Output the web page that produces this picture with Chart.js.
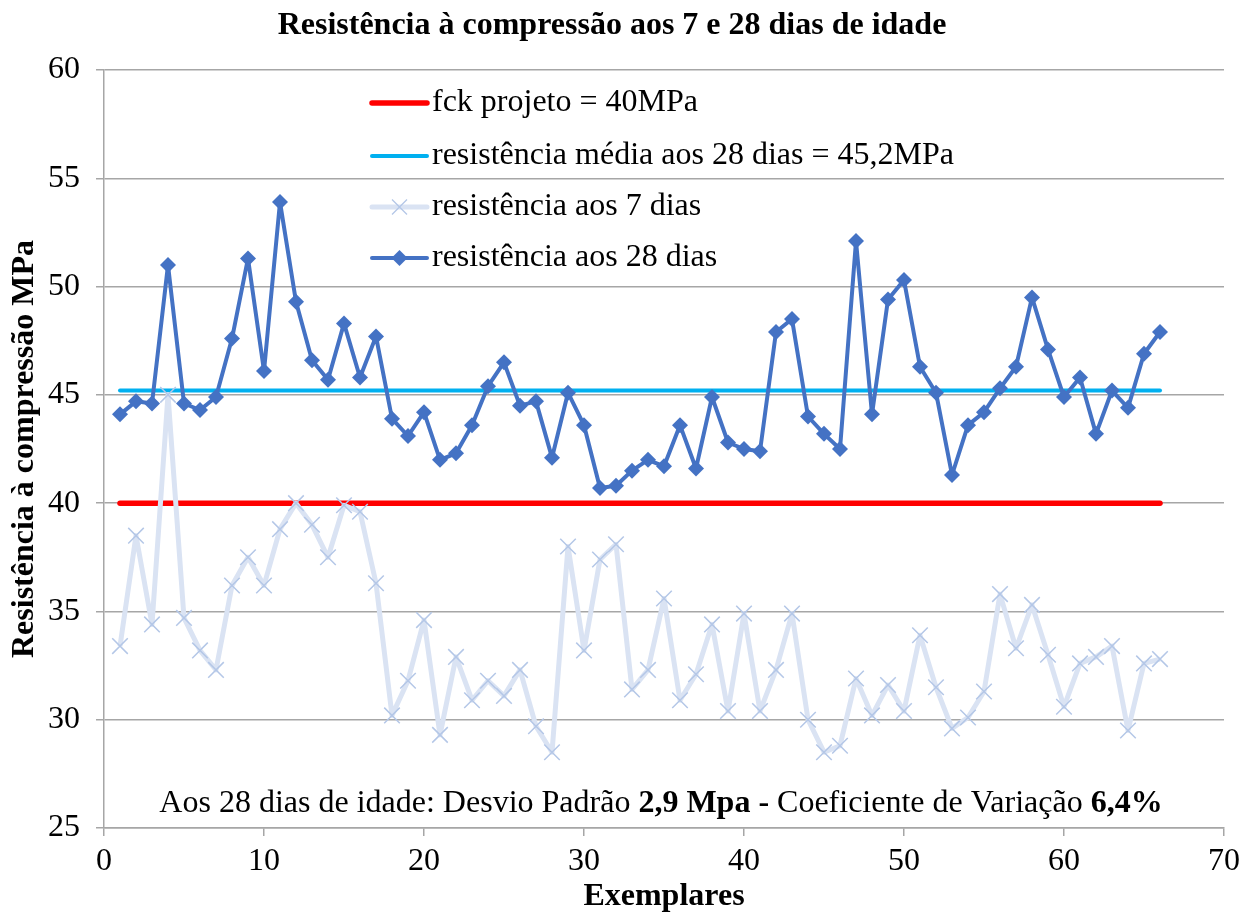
<!DOCTYPE html>
<html>
<head>
<meta charset="utf-8">
<script src="https://cdn.jsdelivr.net/npm/chart.js@4/dist/chart.umd.min.js"></script>
<style>
  html, body { margin: 0; padding: 0; background: #ffffff; }
  #wrap { width: 1252px; height: 912px; position: relative; }
</style>
</head>
<body>
<div id="wrap"><canvas id="c" width="1252" height="912"></canvas></div>
<script>
// ---- Data ----
const exemplares = [1,2,3,4,5,6,7,8,9,10,11,12,13,14,15,16,17,18,19,20,21,22,23,24,25,26,27,28,29,30,31,32,33,34,35,36,37,38,39,40,41,42,43,44,45,46,47,48,49,50,51,52,53,54,55,56,57,58,59,60,61,62,63,64,65,66];
const resist28 = [44.1,44.7,44.6,51.0,44.6,44.3,44.9,47.6,51.3,46.1,53.9,49.3,46.6,45.7,48.3,45.8,47.7,43.9,43.1,44.2,42.0,42.3,43.6,45.4,46.5,44.5,44.7,42.1,45.1,43.6,40.7,40.8,41.5,42.0,41.7,43.6,41.6,44.9,42.8,42.5,42.4,47.9,48.5,44.0,43.2,42.5,52.1,44.1,49.4,50.3,46.3,45.1,41.3,43.6,44.2,45.3,46.3,49.5,47.1,44.9,45.8,43.2,45.2,44.4,46.9,47.9];
const resist7 = [33.4,38.5,34.4,45.0,34.7,33.2,32.3,36.2,37.5,36.2,38.8,40.0,39.0,37.5,39.9,39.6,36.3,30.2,31.8,34.6,29.3,32.9,30.9,31.8,31.1,32.3,29.7,28.5,38.0,33.2,37.4,38.1,31.4,32.3,35.6,30.9,32.1,34.4,30.4,34.9,30.4,32.3,34.9,30.0,28.5,28.8,31.9,30.2,31.6,30.4,33.9,31.5,29.6,30.1,31.3,35.8,33.3,35.3,33.0,30.6,32.6,32.9,33.4,29.5,32.6,32.8];
const fckProjeto = 40;
const mediaAos28 = 45.2;
const seriesLabels = ['fck projeto = 40MPa', 'resistência média aos 28 dias = 45,2MPa', 'resistência aos 7 dias', 'resistência aos 28 dias'];
const xTicks = [0,10,20,30,40,50,60,70];
const yTicks = [25,30,35,40,45,50,55,60];
const chartTitle = 'Resistência à compressão aos 7 e 28 dias de idade';
const yTitle = 'Resistência à compressão MPa';
const xTitle = 'Exemplares';
const noteParts = [
  ['Aos 28 dias de idade: Desvio Padrão ', false],
  ['2,9 Mpa - ', true],
  ['Coeficiente de Variação ', false],
  ['6,4%', true]
];

const FONT = "'Liberation Serif', 'Times New Roman', serif";
const GRID = '#a6a6a6';

function pts(xs, ys) { return xs.map((x, i) => ({x: x, y: ys[i]})); }
const firstX = exemplares[0], lastX = exemplares[exemplares.length - 1];

// Legend drawn inside the plot area + note text
const insideLegend = {
  id: 'insideLegend',
  afterDraw(chart) {
    const ctx = chart.ctx;
    const rows = [0, 1, 2, 3];
    const x0 = 372, x1 = 427, tx = 432;
    const ys = [103, 156, 207, 258];
    ctx.save();
    rows.forEach((di, r) => {
      const ds = chart.data.datasets[di];
      const y = ys[r];
      ctx.strokeStyle = ds.borderColor;
      ctx.lineWidth = ds.borderWidth;
      ctx.lineCap = 'round';
      ctx.beginPath(); ctx.moveTo(x0, y); ctx.lineTo(x1, y); ctx.stroke();
      const cx = (x0 + x1) / 2;
      if (ds.pointStyle === 'crossRot') {
        const s = 7.5;
        ctx.strokeStyle = ds.pointBorderColor; ctx.lineWidth = 1.3; ctx.lineCap = 'butt';
        ctx.beginPath(); ctx.moveTo(cx - s, y - s); ctx.lineTo(cx + s, y + s);
        ctx.moveTo(cx + s, y - s); ctx.lineTo(cx - s, y + s); ctx.stroke();
      } else if (ds.pointStyle === 'rectRot') {
        const s = 8;
        ctx.fillStyle = ds.pointBackgroundColor;
        ctx.beginPath(); ctx.moveTo(cx, y - s); ctx.lineTo(cx + s, y); ctx.lineTo(cx, y + s); ctx.lineTo(cx - s, y); ctx.closePath(); ctx.fill();
      }
      ctx.fillStyle = '#000';
      ctx.font = '32px ' + FONT;
      ctx.textBaseline = 'middle';
      ctx.textAlign = 'left';
      ctx.fillText(ds.label, tx, y);
    });
    ctx.textBaseline = 'alphabetic';
    let total = 0;
    noteParts.forEach(p => { ctx.font = (p[1] ? 'bold ' : '') + '32px ' + FONT; total += ctx.measureText(p[0]).width; });
    let x = 661 - total / 2;
    noteParts.forEach(p => { ctx.font = (p[1] ? 'bold ' : '') + '32px ' + FONT; ctx.fillText(p[0], x, 812); x += ctx.measureText(p[0]).width; });
    ctx.restore();
  }
};

new Chart(document.getElementById('c'), {
  type: 'line',
  data: {
    datasets: [
      { label: seriesLabels[0], data: [{x: firstX, y: fckProjeto}, {x: lastX, y: fckProjeto}], borderColor: '#ff0000', backgroundColor: '#ff0000', borderWidth: 5.5, pointRadius: 0, borderCapStyle: 'round', order: 3 },
      { label: seriesLabels[1], data: [{x: firstX, y: mediaAos28}, {x: lastX, y: mediaAos28}], borderColor: '#00b0f0', backgroundColor: '#00b0f0', borderWidth: 4, pointRadius: 0, borderCapStyle: 'round', order: 2 },
      { label: seriesLabels[2], data: pts(exemplares, resist7), borderColor: '#dae3f3', backgroundColor: '#dae3f3', borderWidth: 5, borderJoinStyle: 'round', pointStyle: 'crossRot', pointRadius: 11, pointBorderColor: '#b4c7e7', pointBorderWidth: 1.5, pointBackgroundColor: '#b4c7e7', order: 1 },
      { label: seriesLabels[3], data: pts(exemplares, resist28), borderColor: '#4472c4', backgroundColor: '#4472c4', borderWidth: 4, borderJoinStyle: 'round', pointStyle: 'rectRot', pointRadius: 8, pointBorderWidth: 0, pointBackgroundColor: '#4472c4', pointBorderColor: '#4472c4', order: 0 }
    ]
  },
  options: {
    responsive: false,
    animation: false,
    layout: { padding: { left: 0, right: 28, top: 0, bottom: 0 } },
    plugins: {
      legend: { display: false },
      tooltip: { enabled: false },
      title: { display: true, text: chartTitle, color: '#000', font: { family: FONT, size: 32, weight: 'bold', lineHeight: 1.2 }, padding: { top: 7, bottom: 24.6 } }
    },
    scales: {
      x: {
        type: 'linear', min: 0, max: 70,
        afterFit(s) { s.height = 84; },
        afterBuildTicks(s) { s.ticks = xTicks.map(v => ({value: v})); },
        grid: { display: true, drawOnChartArea: false, color: GRID, lineWidth: 1.5, tickLength: 8, tickColor: GRID },
        border: { display: true, color: GRID, width: 1.5 },
        ticks: { color: '#000', font: { family: FONT, size: 32 }, padding: 6, maxRotation: 0 },
        title: { display: true, text: xTitle, color: '#000', font: { family: FONT, size: 32, weight: 'bold', lineHeight: 1.2 }, padding: { top: 0, bottom: -4 } }
      },
      y: {
        type: 'linear', min: 25, max: 60,
        afterFit(s) { s.width = 104; },
        afterBuildTicks(s) { s.ticks = yTicks.map(v => ({value: v})); },
        grid: { display: true, color: GRID, lineWidth: 1.5, tickLength: 8, tickColor: GRID },
        border: { display: true, color: GRID, width: 1.5 },
        ticks: { color: '#000', font: { family: FONT, size: 32 }, padding: 16 },
        title: { display: true, text: yTitle, color: '#000', font: { family: FONT, size: 32, weight: 'bold', lineHeight: 1.2 }, padding: { top: 6, bottom: 0 } }
      }
    }
  },
  plugins: [insideLegend]
});
</script>
</body>
</html>
